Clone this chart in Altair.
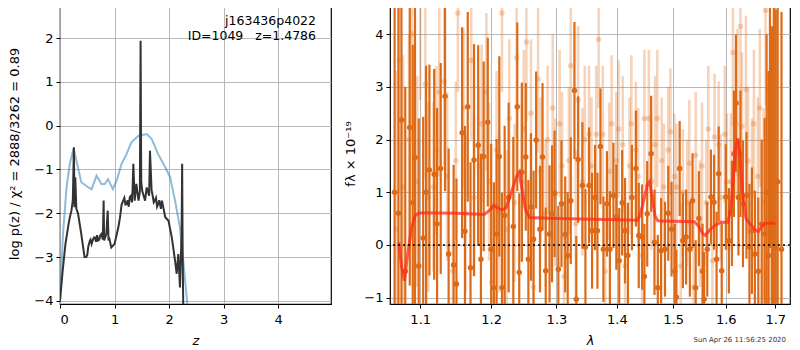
import altair as alt
import pandas as pd

# ---------------- left panel: p(z) ----------------
z_dark = [0.0, 0.05, 0.10, 0.15, 0.18, 0.21, 0.235, 0.255, 0.265, 0.28, 0.30, 0.33, 0.39, 0.45, 0.48, 0.50, 0.52,
          0.55, 0.56, 0.58, 0.60, 0.62, 0.64, 0.66, 0.68, 0.70, 0.72, 0.74, 0.76, 0.785, 0.80, 0.81, 0.85, 0.875,
          0.89, 0.90, 0.94, 1.0, 1.07, 1.10, 1.13, 1.16, 1.18, 1.20, 1.22, 1.24, 1.26, 1.28, 1.30, 1.32, 1.33,
          1.345, 1.37, 1.40, 1.44, 1.465, 1.478, 1.49, 1.51, 1.56, 1.59, 1.635, 1.65, 1.68, 1.70, 1.72, 1.74,
          1.76, 1.78, 1.80, 1.82, 1.85, 1.87, 1.93, 1.99, 2.05, 2.11, 2.14, 2.17, 2.20, 2.23, 2.24, 2.25, 2.26, 2.30]
p_dark = [-4.0, -3.3, -2.7, -2.3, -2.09, -1.94, -1.7, -0.49, -1.86, -1.18, -1.9, -2.0, -2.47, -3.0, -3.0, -2.95, -2.75,
          -2.62, -2.6, -2.7, -2.62, -2.55, -2.55, -2.65, -2.5, -2.62, -2.6, -2.5, -2.47, -2.6, -1.71, -2.62, -2.47, -1.94,
          -2.62, -2.55, -2.78, -2.7, -2.32, -2.1, -1.8, -1.71, -1.65, -1.8, -1.79, -1.7, -1.85, -1.63, -1.6, -1.75, -1.5,
          -0.87, -1.71, -1.33, -1.71, -1.5, 1.94, -1.29, -1.5, -1.71, -1.41, -1.6, -0.57, -1.48, -1.6, -1.75, -1.71,
          -1.65, -1.85, -1.79, -1.7, -1.9, -1.71, -2.09, -2.17, -2.55, -3.08, -3.38, -2.93, -3.69, -2.47, -0.87, -3.0,
          -4.1, -5.0]

z_blue = [0.0, 0.055, 0.12, 0.18, 0.25, 0.32, 0.39, 0.52, 0.58, 0.67, 0.76, 0.82, 0.88, 0.97, 1.04, 1.13, 1.22,
          1.31, 1.44, 1.59, 1.68, 1.80, 1.93, 2.02, 2.11, 2.20, 2.26, 2.33, 2.40]
p_blue = [-4.0, -2.47, -1.41, -0.87, -0.52, -0.9, -1.29, -1.41, -1.45, -1.14, -1.33, -1.33, -1.22, -1.45, -1.25,
          -0.87, -0.65, -0.38, -0.23, -0.19, -0.30, -0.65, -0.95, -1.18, -1.71, -2.32, -3.08, -4.0, -5.0]

# ---------------- right panel: spectrum ----------------
dark_wave = [1.066, 1.071, 1.075, 1.080, 1.086, 1.090, 1.093, 1.098, 1.104, 1.108, 1.1125, 1.119, 1.123, 1.128,
             1.134, 1.139, 1.146, 1.150, 1.158, 1.162, 1.166, 1.170, 1.175, 1.181, 1.185, 1.189, 1.195, 1.200,
             1.204, 1.208, 1.212, 1.216, 1.220, 1.226, 1.233, 1.239, 1.242, 1.246, 1.252, 1.256, 1.260, 1.264,
             1.268, 1.274, 1.278, 1.283, 1.289, 1.293, 1.297, 1.303, 1.308, 1.314, 1.318, 1.323, 1.329, 1.332,
             1.335, 1.342, 1.347, 1.353, 1.358, 1.363, 1.367, 1.372, 1.377, 1.383, 1.388, 1.394, 1.399, 1.404,
             1.409, 1.414, 1.419, 1.426, 1.433, 1.438, 1.444, 1.448, 1.453, 1.460, 1.466, 1.472, 1.478, 1.485,
             1.491, 1.497, 1.503, 1.506, 1.512, 1.518, 1.524, 1.531, 1.536, 1.542, 1.548, 1.555, 1.558, 1.564,
             1.571, 1.577, 1.582, 1.586, 1.592, 1.600, 1.606, 1.612, 1.616, 1.620, 1.625, 1.629, 1.634, 1.641,
             1.647, 1.652, 1.658, 1.665, 1.672, 1.678, 1.682, 1.686, 1.689, 1.693, 1.697, 1.701, 1.705, 1.713]
dark_flux = [1.0, 0.6, 2.37, -0.5, 2.23, 0.8, 1.66, -0.4, 0.13, 1.0, 1.42, 1.34, 0.4, 1.45,
             2.82, -0.17, -0.38, -0.74, 2.13, 0.26, 2.62, -0.43, 1.61, 1.89, -0.27, 1.68, 2.33, -0.08,
             -0.81, 0.21, 1.68, -0.81, 0.56, 0.9, 0.35, 2.62, -0.52, 1.38, 1.67, -0.27, 0.72, 0.11,
             1.99, 0.3, 1.67, -0.49, 0.21, 0.59, 0.97, -0.46, 0.78, 0.2, -0.2, 0.84, 2.93, -1.03,
             1.62, 1.13, -0.04, 1.13, 0.27, 0.9, 0.27, 1.87, -0.08, 0.78, -0.08, 0.94, 0.53, -0.3,
             0.8, 0.27, -0.2, 0.9, 1.45, 0.18, 0.15, -0.6, 0.59, 1.73, 0.05, -0.81, -0.11, -0.08,
             0.6, 0.3, -0.5, -0.99, 1.45, 0.08, 0.15, -0.08, 0.84, -0.81, 0.5, -0.5, -1.03, -0.08,
             0.91, 0.81, -0.27, 1.35, -0.49, 0.91, 0.08, 0.6, 1.73, 2.69, 0.9, 1.73, 0.78, 0.94,
             -0.04, 0.27, -0.17, -0.5, 0.4, 0.21, 1.0, -0.2, 2.94, 0.15, 0.5, -0.04, 1.2, -0.08]
dark_err = [4.5, 4.5, 4.0, 3.5, 3.0, 3.0, 3.0, 2.8, 2.3, 2.4, 2.0, 2.0, 2.2, 2.0,
            1.8, 2.0, 1.9, 2.0, 2.0, 2.0, 1.8, 2.0, 2.2, 1.9, 2.0, 1.8, 1.6, 2.0,
            2.0, 1.8, 1.9, 1.8, 1.7, 1.8, 1.7, 1.6, 1.5, 1.7, 1.4, 1.5, 1.4, 1.3,
            1.3, 1.2, 1.4, 1.2, 1.3, 1.3, 1.2, 1.2, 1.2, 1.1, 1.2, 1.2, 1.3, 1.2,
            1.2, 1.2, 1.1, 1.1, 1.1, 1.0, 1.1, 1.1, 1.0, 1.0, 1.1, 1.0, 1.0, 1.0,
            1.0, 1.0, 1.0, 1.0, 1.1, 1.0, 1.0, 1.0, 1.0, 1.1, 1.0, 1.0, 1.0, 0.9,
            0.9, 0.9, 0.9, 0.9, 0.9, 0.9, 0.9, 0.9, 0.9, 0.9, 0.9, 0.9, 0.9, 0.9,
            0.9, 0.9, 0.9, 0.9, 0.9, 1.0, 1.0, 1.0, 1.2, 1.3, 1.1, 1.2, 1.2, 1.2,
            1.2, 1.2, 1.2, 1.4, 1.6, 2.2, 3.0, 3.5, 3.0, 4.0, 4.5, 4.5, 4.5, 4.5]

light_wave = [1.068, 1.072, 1.077, 1.085, 1.089, 1.096, 1.100, 1.107, 1.111, 1.118, 1.122, 1.126, 1.133, 1.137,
              1.145, 1.149, 1.152, 1.160, 1.163, 1.171, 1.175, 1.182, 1.186, 1.193, 1.197, 1.201, 1.208, 1.212,
              1.216, 1.223, 1.227, 1.235, 1.238, 1.246, 1.249, 1.253, 1.260, 1.264, 1.271, 1.275, 1.283, 1.286,
              1.294, 1.298, 1.305, 1.309, 1.312, 1.320, 1.323, 1.331, 1.335, 1.342, 1.346, 1.353, 1.357, 1.365,
              1.369, 1.376, 1.380, 1.387, 1.391, 1.399, 1.403, 1.410, 1.414, 1.422, 1.425, 1.433, 1.437, 1.444,
              1.448, 1.456, 1.460, 1.467, 1.471, 1.479, 1.483, 1.491, 1.495, 1.502, 1.506, 1.514, 1.518, 1.526,
              1.530, 1.538, 1.542, 1.550, 1.554, 1.562, 1.566, 1.574, 1.578, 1.586, 1.590, 1.598, 1.602, 1.610,
              1.614, 1.620, 1.623, 1.629, 1.632, 1.640, 1.644, 1.652, 1.656, 1.664, 1.668, 1.676, 1.680, 1.688]
light_flux = [0.3, 3.5, 1.1, 2.0, 4.0, 1.2, 4.55, 3.05, 0.9, 1.1, 1.8, 2.9, 3.1, 1.3,
              -0.5, 1.6, 4.4, 2.6, 0.6, 3.5, 0.9, 1.5, 2.3, 2.9, 1.2, -0.7, 1.8, 0.6,
              4.4, 0.3, 2.4, 0.8, 3.55, 1.2, 2.2, 3.85, 2.5, -0.8, 3.15, 1.4, 0.6, 2.0,
              2.6, 1.0, 2.3, 1.5, -0.6, 1.6, 3.4, 0.4, 2.75, 1.2, 2.0, 2.1, 1.5, 2.1,
              3.9, 2.1, -0.5, 1.4, 2.3, 1.6, 2.2, 1.9, -0.4, 1.5, 2.3, 1.8, 1.3, -0.2,
              2.4, 2.4, 1.2, 1.9, 2.4, 1.6, 1.1, 1.8, 2.15, 1.3, 1.1, -0.4, 1.0, 0.8,
              1.55, -0.8, 1.7, 0.4, 1.5, 0.8, 2.2, -0.3, 2.05, 1.9, 0.9, 2.1, 1.2, 1.2,
              3.65, 2.3, 2.7, 4.15, 2.25, 2.95, 1.6, 1.0, 2.3, 1.3, 2.6, 0.8, 4.45, 0.5]
light_err = [3.0, 2.5, 2.5, 2.0, 2.0, 2.0, 1.8, 1.8, 1.8, 1.6, 1.6, 1.6, 1.6, 1.6,
             1.5, 1.5, 1.5, 1.5, 1.5, 1.5, 1.5, 1.5, 1.5, 1.5, 1.5, 1.5, 1.5, 1.5,
             1.5, 1.5, 1.5, 1.5, 1.5, 1.5, 1.5, 1.5, 1.4, 1.4, 1.4, 1.4, 1.4, 1.4,
             1.4, 1.4, 1.4, 1.4, 1.4, 1.4, 1.4, 1.4, 1.4, 1.4, 1.4, 1.3, 1.3, 1.3,
             1.3, 1.3, 1.3, 1.3, 1.3, 1.3, 1.3, 1.3, 1.3, 1.3, 1.3, 1.3, 1.3, 1.3,
             1.3, 1.3, 1.3, 1.3, 1.3, 1.2, 1.2, 1.2, 1.2, 1.2, 1.2, 1.2, 1.2, 1.2,
             1.2, 1.2, 1.2, 1.2, 1.2, 1.2, 1.2, 1.2, 1.2, 1.2, 1.2, 1.3, 1.3, 1.3,
             1.4, 1.4, 1.4, 1.4, 1.4, 1.4, 1.4, 1.4, 1.4, 1.5, 1.5, 1.8, 1.8, 2.5]

model_wave = [1.0716, 1.075, 1.079, 1.083, 1.088, 1.093, 1.097, 1.105, 1.150, 1.190, 1.197, 1.204, 1.210, 1.216,
              1.222, 1.230, 1.238, 1.242, 1.247, 1.252, 1.258, 1.300, 1.400, 1.435, 1.440, 1.447, 1.453, 1.457,
              1.462, 1.467, 1.472, 1.500, 1.540, 1.548, 1.555, 1.560, 1.568, 1.580, 1.590, 1.604, 1.610, 1.615,
              1.620, 1.624, 1.628, 1.633, 1.640, 1.650, 1.660, 1.665, 1.672, 1.680, 1.700]
model_flux = [0.05, -0.4, -0.68, -0.2, 0.3, 0.55, 0.6, 0.61, 0.6, 0.58, 0.65, 0.75, 0.7, 0.66,
              0.7, 1.0, 1.3, 1.38, 1.0, 0.65, 0.52, 0.5, 0.48, 0.47, 0.55, 0.85, 1.15, 1.2,
              0.9, 0.55, 0.46, 0.45, 0.44, 0.35, 0.22, 0.18, 0.28, 0.38, 0.43, 0.43, 0.7, 1.3,
              1.9, 2.02, 1.7, 1.0, 0.5, 0.38, 0.28, 0.25, 0.35, 0.41, 0.41]

title_lines = ["j163436p4022", "ID=1049\u00a0\u00a0\u00a0z=1.4786"]
timestamp = ["Sun Apr 26 11:56:25 2020"]

FONT = "DejaVu Sans"
GRID = "#b0b0b0"
H = 301

# ---------- left ----------
df_dark = pd.DataFrame({"z": z_dark, "p": p_dark})
df_blue = pd.DataFrame({"z": z_blue, "p": p_blue})
zx = alt.X("z:Q", scale=alt.Scale(domain=[0, 4.97], nice=False),
           axis=alt.Axis(values=[0, 1, 2, 3, 4], title="z", titleFontStyle="italic"))
py = alt.Y("p:Q", scale=alt.Scale(domain=[-4.07, 2.8], nice=False),
           axis=alt.Axis(values=[-4, -3, -2, -1, 0, 1, 2], titlePadding=12,
                         title="log p(z) / χ² = 2888/3262 = 0.89"))
blue = alt.Chart(df_blue).mark_line(color="#1f77b4", opacity=0.5, strokeWidth=2, clip=True).encode(x=zx, y=py)
darkl = alt.Chart(df_dark).mark_line(color="#333333", strokeWidth=2, clip=True).encode(x=zx, y=py)
df_t = pd.DataFrame({"t": title_lines})
txt1 = alt.Chart(df_t.iloc[[0]]).mark_text(align="right", baseline="middle", fontSize=12.5, font=FONT,
                                            color="black").encode(x=alt.value(256), y=alt.value(18), text="t:N")
txt2 = alt.Chart(df_t.iloc[[1]]).mark_text(align="right", baseline="middle", fontSize=12.5, font=FONT,
                                            color="black").encode(x=alt.value(256), y=alt.value(33), text="t:N")
left = alt.layer(blue, darkl, txt1, txt2).properties(width=271, height=H)

# ---------- right ----------
df_d = pd.DataFrame({"w": dark_wave, "f": dark_flux, "e": dark_err})
df_d["lo"] = df_d["f"] - df_d["e"]
df_d["hi"] = df_d["f"] + df_d["e"]
df_l = pd.DataFrame({"w": light_wave, "f": light_flux, "e": light_err})
df_l["lo"] = df_l["f"] - df_l["e"]
df_l["hi"] = df_l["f"] + df_l["e"]
df_m = pd.DataFrame({"w": model_wave, "f": model_flux})

YDOM = [-1.12, 4.59]
wx = alt.X("w:Q", scale=alt.Scale(type="log", domain=[1.06, 1.731], nice=False),
           axis=alt.Axis(values=[1.1, 1.2, 1.3, 1.4, 1.5, 1.6, 1.7], format=".1f", title="λ",
                         titleFontStyle="italic"))
fy = alt.Y("f:Q", scale=alt.Scale(domain=YDOM, nice=False),
           axis=alt.Axis(values=[-1, 0, 1, 2, 3, 4], title="fλ × 10⁻¹⁹"))
ylo = alt.Y("lo:Q", scale=alt.Scale(domain=YDOM, nice=False),
            axis=alt.Axis(values=[-1, 0, 1, 2, 3, 4], title="fλ × 10⁻¹⁹"))

ORANGE = "#e07020"
DARK = "#dc6a16"
l_bars = alt.Chart(df_l).mark_rule(color=ORANGE, opacity=0.3, strokeWidth=2.6, clip=True).encode(
    x=wx, y=ylo, y2="hi:Q")
l_pts = alt.Chart(df_l).mark_circle(color=ORANGE, opacity=0.3, size=30, clip=True).encode(x=wx, y=fy)
d_bars = alt.Chart(df_d).mark_rule(color=DARK, opacity=1, strokeWidth=2.2, clip=True).encode(
    x=wx, y=ylo, y2="hi:Q")
d_pts = alt.Chart(df_d).mark_circle(color=DARK, opacity=1, size=30, clip=True).encode(x=wx, y=fy)
model = alt.Chart(df_m).mark_line(color="#ff2a1a", opacity=0.75, strokeWidth=3, clip=True).encode(x=wx, y=fy)
zero = alt.Chart(pd.DataFrame({"f": [0.0]})).mark_rule(color="black", strokeDash=[2, 3], strokeWidth=1.6).encode(
    y=alt.Y("f:Q", scale=alt.Scale(domain=YDOM, nice=False)))
stamp = alt.Chart(pd.DataFrame({"t": timestamp})).mark_text(align="right", baseline="middle", fontSize=7,
                                                             font=FONT, color="#333333").encode(
    x=alt.value(396), y=alt.value(337), text="t:N")
right = alt.layer(l_bars, l_pts, d_bars, d_pts, model, zero, stamp).properties(width=400, height=H)

chart = alt.hconcat(left, right, spacing=12).properties(
    padding={"left": 0, "top": -6, "right": 0, "bottom": 0}
).configure_view(
    stroke="black", strokeWidth=1.2
).configure_axis(
    labelFont=FONT, titleFont=FONT, labelFontSize=13, titleFontSize=13, labelColor="black", titleColor="black",
    titleFontWeight="normal", grid=True, gridColor=GRID, gridWidth=0.9, domain=False, tickColor="black",
    tickSize=4, labelPadding=3
).configure_axisY(titlePadding=6).configure_axisX(labelPadding=5, titlePadding=8)

chart.save("out.html", embed_options={"renderer": "svg", "actions": False})
